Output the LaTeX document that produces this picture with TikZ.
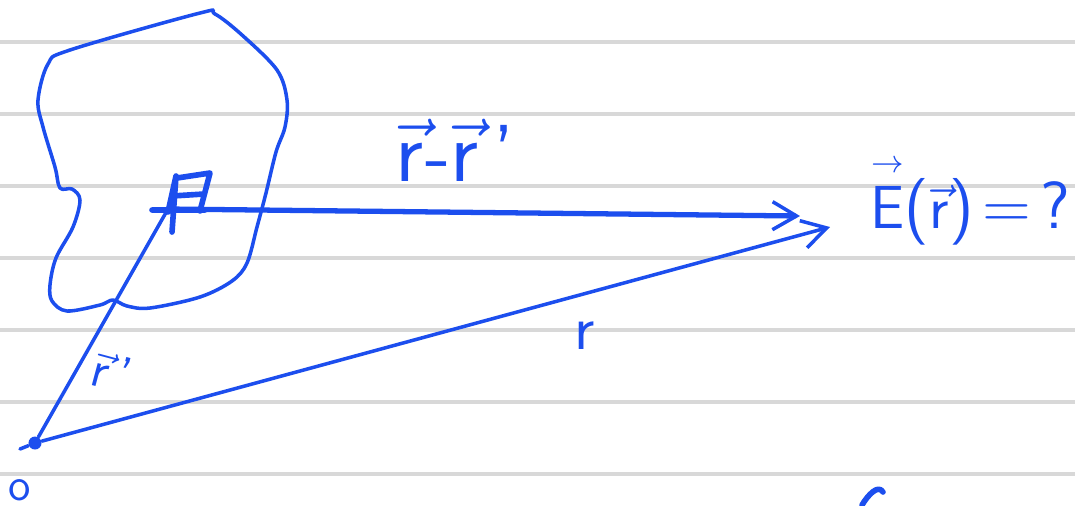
\documentclass[tikz,border=0pt]{standalone}
\usepackage{amsmath,amssymb}
\usepackage{tikz}
\usetikzlibrary{calc,positioning,arrows.meta}
\usepackage{xcolor}
\definecolor{penblue}{RGB}{28,78,238}
\definecolor{rulegray}{RGB}{216,216,216}
\newcommand{\tallvec}[1]{\overset{\scriptscriptstyle\rightarrow}{\mathsf{#1}}}
\tikzset{
  rule/.style={line width=1.2pt, rulegray},
  ink/.style={line width=1pt, penblue, line cap=round, line join=round},
  thickink/.style={line width=1.5pt, penblue, line cap=round},
  barb/.style={-{Straight Barb[length=2.4mm,width=2.8mm,line width=1pt]}},
  label/.style={penblue, inner sep=0pt, font=\sffamily},
  origin/.style={circle, fill=penblue, minimum size=1.3mm, inner sep=0pt},
}

\begin{document}
\begin{tikzpicture}[x=0.01cm, y=-0.01cm]
  \useasboundingbox (0,0) rectangle (1075,505);
  \fill[white] (0,0) rectangle (1075,505);
  % ruled paper
  \foreach \y in {42,114,186,258,330,402,474} {
    \draw[rule] (0,\y) -- (1075,\y);
  }
  % charge distribution
  \draw[ink] plot[smooth cycle, tension=0.55] coordinates {
    (38,100) (48,64) (70,50) (200,13) (215,14) (242,35) (277,70) (287,100)
    (285,127) (276,152) (266,193) (257,227) (247,263) (232,281) (200,297)
    (150,308) (127,306) (113,300) (100,305) (67,311) (52,301) (50,285)
    (56,258) (73,227) (80,200) (72,189) (60,188) (55,167) (43,127)
  };
  % volume element
  \coordinate (src) at (168,209);
  \draw[ink, line width=1.6pt] (177,178) -- (210,173) -- (200,211) (168,212) -- (176,176) -- (172,232)
    (172,196) -- (204,194) (152,210) -- (205,210);
  % points
  \node[origin] (O) at (35,443) {};
  \coordinate (field) at (830,227);
  \coordinate (dtip) at (800,216);
  \draw[thickink, barb] (src) -- (dtip);
  \draw[ink, barb] (O) -- (field);
  \draw[ink] (O) -- (src);
  \draw[ink] (O) -- ++(-15,6);
  % labels
  \node[label, font=\sffamily\fontsize{23}{26}\selectfont] (rdiff) at (455,150)
    {$\vec{\mathsf{r}}$-$\vec{\mathsf{r}}$\,'};
  \node[label, anchor=base west, font=\sffamily\fontsize{19}{22}\selectfont] (Elab) at (870,228)
    {$\tallvec{E}$($\vec{\mathsf{r}}$)\kern2.5pt=\kern2.5pt?};
  \node[label, font=\sffamily\fontsize{18}{20}\selectfont] (rlab) at (585,336) {r};
  \node[label, rotate=-15, font=\sffamily\fontsize{15}{16}\selectfont] (rplab) at (112,372) {$\vec{\mathsf{r}}$\kern2pt'};
  \node[label, font=\sffamily\fontsize{13}{14}\selectfont] (olab) at (20,490) {o};
  % cut-off pen mark
  \draw[ink, line width=1.6pt] (862,505) .. controls (868,495) and (878,484) .. (883,492);
\end{tikzpicture}
\end{document}
